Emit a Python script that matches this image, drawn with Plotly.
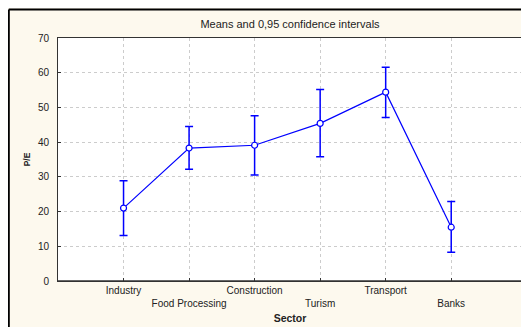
import plotly.graph_objects as go

sectors = ["Industry", "Food Processing", "Construction", "Turism", "Transport", "Banks"]
means = [21.0, 38.3, 39.1, 45.4, 54.4, 15.5]
upper = [28.9, 44.5, 47.6, 55.2, 61.6, 22.9]
lower = [13.1, 32.2, 30.5, 35.8, 47.1, 8.3]
y_ticks = [0, 10, 20, 30, 40, 50, 60, 70]

x_pos = list(range(len(sectors)))
tick_text = [s if i % 2 == 0 else "<br>" + s for i, s in enumerate(sectors)]

err_plus = [u - m for u, m in zip(upper, means)]
err_minus = [m - l for m, l in zip(means, lower)]

BLUE = "#0000ff"
CREAM = "#fdf9ee"
FONT = "Liberation Sans, Arial, sans-serif"

fig = go.Figure()
fig.add_trace(go.Scatter(
    x=x_pos, y=means, mode="lines+markers",
    line=dict(color=BLUE, width=1.2),
    marker=dict(symbol="circle", size=6, color="white", line=dict(color=BLUE, width=1.2)),
    error_y=dict(type="data", array=err_plus, arrayminus=err_minus,
                 color=BLUE, thickness=1.5, width=4, visible=True),
    showlegend=False,
))

# page is offset by the 8px body margin
W, H = 521, 319
ml, mr, mt, mb = 50, 7, 30, 46
pw, ph = W - ml - mr, H - mt - mb

def px_x(p):
    return (p - ml) / pw

def px_y(p):
    return (H - mb - p) / ph

bx, by = 0.8, 1.5
shapes = [
    dict(type="line", xref="paper", yref="paper", x0=px_x(bx), x1=px_x(W + 5), y0=px_y(by), y1=px_y(by),
         line=dict(color="black", width=2), layer="below"),
    dict(type="line", xref="paper", yref="paper", x0=px_x(bx), x1=px_x(bx), y0=px_y(by), y1=px_y(H + 5),
         line=dict(color="black", width=2), layer="below"),
    # shadow lines on right/bottom of plot area
    dict(type="line", xref="paper", yref="paper", x0=1, x1=1, y0=0, y1=1,
         line=dict(color="#333333", width=1.5)),
    dict(type="line", xref="paper", yref="paper", x0=0, x1=1, y0=0, y1=0,
         line=dict(color="#333333", width=1.5)),
]

fig.update_layout(
    width=W, height=H, autosize=False,
    margin=dict(l=ml, r=mr, t=mt, b=mb, pad=0, autoexpand=False),
    paper_bgcolor=CREAM, plot_bgcolor="white",
    font=dict(family=FONT, size=10, color="#222222"),
    title=dict(text="Means and 0,95 confidence intervals", x=282 / W, xanchor="center",
               y=1 - 16 / H, yanchor="middle", font=dict(size=11, color="#222222")),
    shapes=shapes,
    xaxis=dict(
        range=[-1, 6.08], tickmode="array", tickvals=x_pos, ticktext=tick_text,
        tickangle=0, automargin=False,
        showgrid=True, gridcolor="#cccccc", griddash="dot", gridwidth=1,
        ticks="inside", ticklen=3, tickcolor="#333333", ticklabelstandoff=0,
        showline=True, linecolor="#333333", linewidth=1, mirror=True,
        zeroline=False,
        title=dict(text="<b>Sector</b>", standoff=6, font=dict(size=10.5)),
    ),
    yaxis=dict(
        range=[0, 70], tickmode="array", tickvals=y_ticks, automargin=False,
        showgrid=True, gridcolor="#cccccc", griddash="dot", gridwidth=1,
        ticks="inside", ticklen=3, tickcolor="#333333", ticklabelstandoff=6,
        showline=True, linecolor="#333333", linewidth=1, mirror=True,
        zeroline=False,
        title=dict(text="<b>P/E</b>", standoff=5, font=dict(size=8.5)),
    ),
)

fig.write_html("out.html")
